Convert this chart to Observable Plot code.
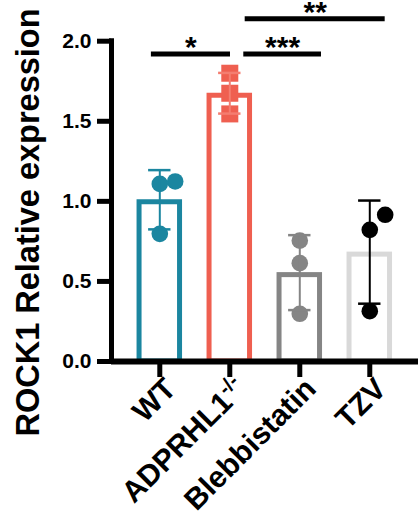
<!DOCTYPE html>
<html><head><meta charset="utf-8">
<script src="https://cdn.jsdelivr.net/npm/d3@7"></script>
<script src="https://cdn.jsdelivr.net/npm/@observablehq/plot@0.6"></script>
<style>body{margin:0;background:#fff} svg{display:block}</style>
</head><body><div id="chart"></div>
<script>
// ---- data ----
const groups = ["WT", "ADPRHL1-/-", "Blebbistatin", "TZV"];
const means = [1.01, 1.675, 0.555, 0.683];
const sds = [0.185, 0.127, 0.234, 0.322];
const replicates = [
  [1.109, 1.124, 0.797],
  [1.80, 1.675, 1.546],
  [0.755, 0.614, 0.298],
  [0.822, 0.916, 0.314]
];
const replicateColumn = [[0, 1, 0], [0, 0, 0], [0, 0, 0], [0, 1, 0]];
const yTicks = [0, 0.5, 1.0, 1.5, 2.0];
const sigLabels = ["*", "***", "**"];
const sigFrom = ["WT", "ADPRHL1-/-", "ADPRHL1-/-"];
const sigTo = ["ADPRHL1-/-", "Blebbistatin", "TZV"];
const sigHeight = [1.92, 1.92, 2.14];
const yLabel = "ROCK1 Relative expression";

// ---- styles ----
const barColors = ["#1b86a0", "#ef5f50", "#858585", "#d9d9d9"];
const dotColors = ["#1b86a0", "#ef5f50", "#858585", "#000000"];
const errColors = ["#1b86a0", "#f47d70", "#858585", "#000000"];
const symbols = ["circle", "square", "circle", "circle"];
const font = "'Liberation Sans', Arial, Helvetica, sans-serif";

// ---- layout ----
const xDomain = [-0.69, 3.696];
const halfBar = 0.325, capHalf = 0.16, jitter = 0.22;
const sigPad = [[-0.12, 0.01], [0.2, 0.31], [0.22, 0.22]];

const bars = groups.map((g, i) => ({i, g, mean: means[i], sd: sds[i]}));
const points = replicates.flatMap((vals, i) => vals.map((v, k) => ({i, v, col: replicateColumn[i][k]})));
const sig = sigLabels.map((label, k) => {
  const a = groups.indexOf(sigFrom[k]) + sigPad[k][0];
  const b = groups.indexOf(sigTo[k]) + sigPad[k][1];
  return {label, a, b, y: sigHeight[k]};
});

const plot = Plot.plot({
  width: 418, height: 519,
  marginLeft: 111, marginRight: 0, marginTop: 40.7, marginBottom: 158,
  x: {domain: xDomain, axis: null},
  y: {domain: [0, 2], axis: null},
  color: {type: "identity"},
  style: {fontFamily: font, fontWeight: "bold", background: "white", overflow: "visible", color: "black"},
  marks: [
    Plot.rectY(bars, {x1: d => d.i - halfBar, x2: d => d.i + halfBar, y1: () => 0, y2: "mean",
      fill: "white", stroke: d => barColors[d.i], strokeWidth: 5, insetTop: 2.5, insetLeft: 2.5, insetRight: 2.5}),
    Plot.dot(points.filter(d => symbols[d.i] === "circle"), {x: d => d.i + d.col * jitter, y: "v", r: 8.3,
      symbol: "circle", fill: d => dotColors[d.i], stroke: "none"}),
    Plot.dot(points.filter(d => symbols[d.i] === "square"), {x: d => d.i + d.col * jitter, y: "v", r: 9.6,
      symbol: "square", fill: d => dotColors[d.i], stroke: "none"}),
    Plot.ruleX(bars, {x: "i", y1: d => d.mean - d.sd, y2: d => d.mean + d.sd, stroke: d => errColors[d.i], strokeWidth: 2}),
    Plot.ruleY(bars, {y: d => d.mean + d.sd, x1: d => d.i - capHalf, x2: d => d.i + capHalf, stroke: d => errColors[d.i], strokeWidth: 2.5}),
    Plot.ruleY(bars, {y: d => d.mean - d.sd, x1: d => d.i - capHalf, x2: d => d.i + capHalf, stroke: d => errColors[d.i], strokeWidth: 2.5}),
    // axes
    Plot.ruleY([0], {stroke: "black", strokeWidth: 6}),
    Plot.ruleX([xDomain[0]], {y1: () => 0, y2: () => 2, stroke: "black", strokeWidth: 5, strokeLinecap: "square"}),
    Plot.axisY({ticks: yTicks, tickSize: 14, tickPadding: 6, strokeWidth: 5, fontSize: 21,
      tickFormat: d3.format(".1f"), label: null}),
    Plot.axisX({ticks: groups.map((g, i) => i), tickSize: 16, strokeWidth: 5, tickFormat: () => "", label: null}),
    Plot.text(bars, {x: "i", y: () => 0, text: "g", rotate: -45, textAnchor: "end", lineAnchor: "bottom",
      dx: 18, dy: 29, fontSize: 30, fill: "black"}),
    Plot.text([yLabel], {text: d => d, frameAnchor: "top-left", dx: 38 - 111, dy: 222 - 40.7, rotate: -90,
      textAnchor: "middle", lineAnchor: "bottom", fontSize: 32.5, fill: "black"}),
    // significance
    Plot.ruleY(sig, {y: "y", x1: "a", x2: "b", stroke: "black", strokeWidth: 5}),
    Plot.text(sig, {x: d => (d.a + d.b) / 2, y: "y", text: "label", fontSize: 30, lineAnchor: "bottom", dy: 3, fill: "black"})
  ]
});

plot.querySelectorAll("text").forEach(t => {
  if (t.textContent === "ADPRHL1-/-") {
    t.textContent = "ADPRHL1";
    const ts = document.createElementNS("http://www.w3.org/2000/svg", "tspan");
    ts.setAttribute("dy", "-0.55em");
    ts.setAttribute("font-size", "0.68em");
    ts.textContent = "-/-";
    t.appendChild(ts);
  }
});
document.getElementById("chart").appendChild(plot);
</script>
</body></html>
